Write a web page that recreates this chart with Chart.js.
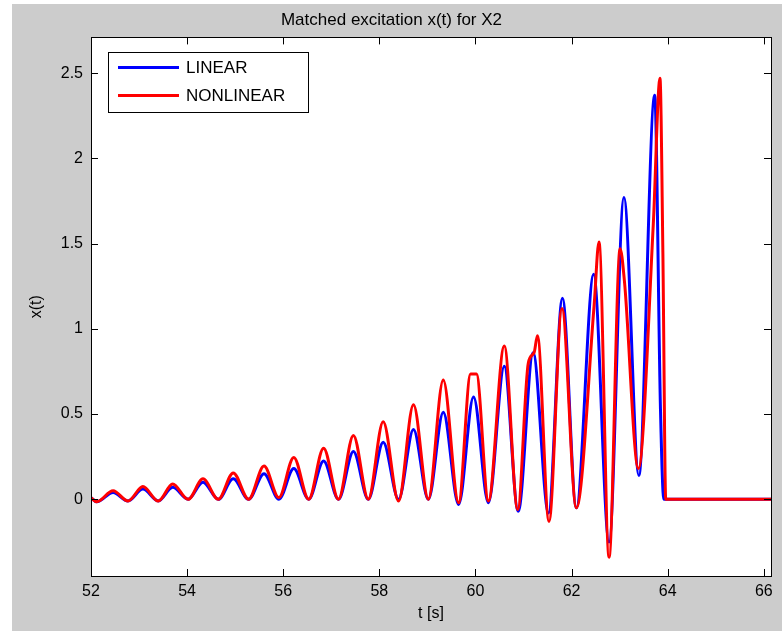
<!DOCTYPE html>
<html>
<head>
<meta charset="utf-8">
<script src="https://cdn.jsdelivr.net/npm/chart.js@4.4.1/dist/chart.umd.min.js"></script>
<style>
  html, body { margin: 0; padding: 0; background: #fff; }
  #wrap { position: absolute; left: 12px; top: 4px; width: 770px; height: 627px; background: #cccccc; }
</style>
</head>
<body>
<div id="wrap"><canvas id="chart" width="770" height="627"></canvas></div>
<script>
// --- Data (time in s, response x(t)) ---
const linearT = [52.00, 52.12, 52.46, 52.77, 53.08, 53.40, 53.70, 54.02, 54.33, 54.65,
  54.96, 55.28, 55.60, 55.91, 56.22, 56.53, 56.84, 57.15, 57.46, 57.77,
  58.08, 58.40, 58.71, 59.02, 59.33, 59.65, 59.96, 60.27, 60.60, 60.89,
  61.20, 61.52, 61.81, 62.10, 62.46, 62.78, 63.09, 63.40, 63.73, 63.85,
  63.92, 66.20];
const linearX = [0.01, -0.015, 0.04, -0.01, 0.06, -0.01, 0.07, 0.00, 0.10, 0.00,
  0.12, 0.00, 0.15, 0.00, 0.18, 0.00, 0.225, 0.00, 0.28, 0.00,
  0.335, 0.00, 0.41, 0.00, 0.51, -0.03, 0.60, -0.02, 0.78, -0.07,
  0.86, -0.08, 1.18, -0.05, 1.32, -0.25, 1.77, 0.14, 2.37, 0.53,
  0.00, 0.00];

const nonlinearT = [52.00, 52.12, 52.46, 52.77, 53.08, 53.40, 53.70, 54.02, 54.33, 54.65,
  54.96, 55.28, 55.60, 55.91, 56.22, 56.53, 56.84, 57.15, 57.46, 57.77,
  58.08, 58.40, 58.71, 59.02, 59.33, 59.65, 59.90, 60.02, 60.27, 60.60,
  60.88, 61.10, 61.22, 61.29, 61.53, 61.80, 62.10, 62.47, 62.57, 62.78,
  63.01, 63.10, 63.39, 63.70, 63.84, 63.90, 63.96, 66.20];
const nonlinearX = [0.01, -0.015, 0.05, -0.01, 0.075, -0.01, 0.09, 0.00, 0.12, 0.00,
  0.155, 0.00, 0.195, 0.01, 0.245, 0.00, 0.30, 0.00, 0.375, 0.00,
  0.455, -0.01, 0.555, 0.00, 0.70, -0.02, 0.735, 0.735, -0.01, 0.90,
  -0.06, 0.80, 0.86, 0.96, -0.13, 1.12, -0.05, 1.14, 1.51, -0.34,
  1.47, 1.28, 0.18, 1.61, 2.47, 1.45, 0.00, 0.00];

const seriesNames = ['LINEAR', 'NONLINEAR'];
const xTickValues = [52, 54, 56, 58, 60, 62, 64, 66];
const yTickValues = [0, 0.5, 1, 1.5, 2, 2.5];

const FONT = '"Liberation Sans", Arial, sans-serif';

function toPoints(ts, xs) {
  return ts.map((t, i) => ({ x: t, y: xs[i] }));
}

// white axes background, MATLAB-style box with inward ticks, boxed legend
const matlabAxes = {
  id: 'matlabAxes',
  beforeDraw(chart) {
    const a = chart.chartArea, ctx = chart.ctx;
    ctx.save();
    ctx.fillStyle = '#ffffff';
    ctx.fillRect(a.left, a.top, a.right - a.left, a.bottom - a.top);
    ctx.restore();
  },
  afterDraw(chart) {
    const a = chart.chartArea, ctx = chart.ctx;
    const xs = chart.scales.x, ys = chart.scales.y;
    const len = 7;
    ctx.save();
    ctx.strokeStyle = '#000000';
    ctx.lineWidth = 1;
    ctx.beginPath();
    xTickValues.forEach(v => {
      const p = Math.round(xs.getPixelForValue(v)) + 0.5;
      ctx.moveTo(p, a.bottom); ctx.lineTo(p, a.bottom - len);
      ctx.moveTo(p, a.top); ctx.lineTo(p, a.top + len);
    });
    yTickValues.forEach(v => {
      const p = Math.round(ys.getPixelForValue(v)) + 0.5;
      ctx.moveTo(a.left, p); ctx.lineTo(a.left + len, p);
      ctx.moveTo(a.right, p); ctx.lineTo(a.right - len, p);
    });
    ctx.stroke();
    ctx.strokeRect(Math.round(a.left) + 0.5, Math.round(a.top) + 0.5,
      Math.round(a.right - a.left), Math.round(a.bottom - a.top));

    // legend
    const bx = a.left + 17, by = a.top + 15, bw = 200, bh = 60;
    ctx.fillStyle = '#ffffff';
    ctx.fillRect(bx, by, bw, bh);
    ctx.strokeRect(Math.round(bx) + 0.5, Math.round(by) + 0.5, bw, bh);
    const dsets = chart.data.datasets;
    [0, 1].forEach(i => {
      const y = by + 15 + i * 28;
      ctx.strokeStyle = dsets[i].borderColor;
      ctx.lineWidth = 3;
      ctx.beginPath();
      ctx.moveTo(bx + 10, y); ctx.lineTo(bx + 71, y);
      ctx.stroke();
      ctx.fillStyle = '#000000';
      ctx.font = '17px ' + FONT;
      ctx.textBaseline = 'middle';
      ctx.textAlign = 'left';
      ctx.fillText(dsets[i].label, bx + 78, y + 1);
    });
    ctx.restore();
  }
};

new Chart(document.getElementById('chart'), {
  type: 'line',
  data: {
    datasets: [
      {
        label: seriesNames[0],
        data: toPoints(linearT, linearX),
        borderColor: '#0000ff',
        borderWidth: 3,
        pointRadius: 0,
        cubicInterpolationMode: 'monotone',
        order: 1
      },
      {
        label: seriesNames[1],
        data: toPoints(nonlinearT, nonlinearX),
        borderColor: '#ff0000',
        borderWidth: 3,
        pointRadius: 0,
        cubicInterpolationMode: 'monotone',
        order: 0
      }
    ]
  },
  options: {
    responsive: false,
    animation: false,
    layout: { padding: { left: 0, right: 11, top: 0, bottom: 0 } },
    plugins: {
      legend: { display: false },
      tooltip: { enabled: false },
      title: {
        display: true,
        text: 'Matched excitation x(t) for X2',
        color: '#000000',
        font: { family: FONT, size: 17, weight: 'normal' },
        padding: { top: 6, bottom: 7 }
      }
    },
    scales: {
      x: {
        type: 'linear',
        min: 52, max: 66.15,
        afterBuildTicks: s => { s.ticks = xTickValues.map(v => ({ value: v })); },
        afterFit: s => { s.height = 55; },
        grid: { display: false, tickLength: 0 },
        border: { display: false },
        ticks: { color: '#000000', padding: 6, font: { family: FONT, size: 16 }, maxRotation: 0, callback: v => String(v) },
        title: { display: true, text: 't [s]', color: '#000000', font: { family: FONT, size: 16 }, padding: { top: 0, bottom: 8 } }
      },
      y: {
        type: 'linear',
        min: -0.45, max: 2.71,
        afterBuildTicks: s => { s.ticks = yTickValues.map(v => ({ value: v })); },
        afterFit: s => { s.width = 79; },
        grid: { display: false, tickLength: 0 },
        border: { display: false },
        ticks: { color: '#000000', padding: 8, font: { family: FONT, size: 16 }, callback: v => String(v) },
        title: { display: true, text: 'x(t)', color: '#000000', font: { family: FONT, size: 16 }, padding: { top: 15, bottom: 0 } }
      }
    }
  },
  plugins: [matlabAxes]
});
</script>
</body>
</html>
